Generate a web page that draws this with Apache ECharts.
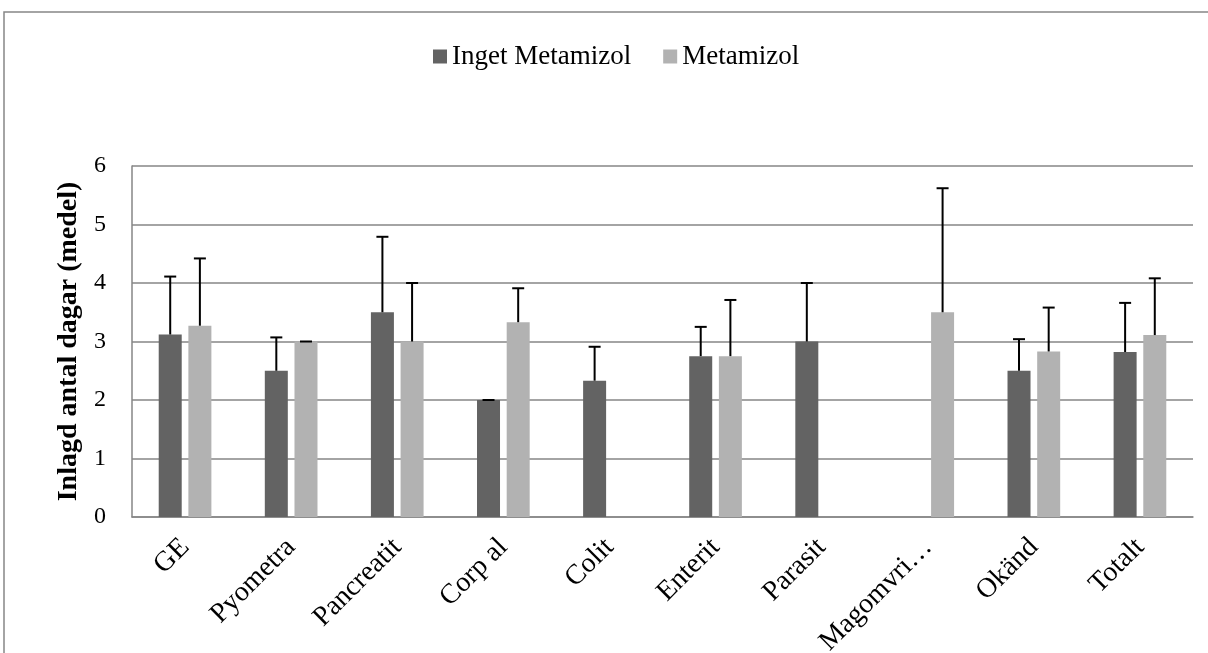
<!DOCTYPE html>
<html>
<head>
<meta charset="utf-8">
<script src="https://cdn.jsdelivr.net/npm/echarts@6/dist/echarts.min.js"></script>
<style>html,body{margin:0;padding:0;background:#fff}#c{width:1208px;height:653px}</style>
</head>
<body>
<div id="c"></div>
<script>
const categories = ['GE','Pyometra','Pancreatit','Corp al','Colit','Enterit','Parasit','Magomvri…','Okänd','Totalt'];
const ingetMean = [3.12, 2.5, 3.5, 2.0, 2.33, 2.75, 3.0, null, 2.5, 2.82];
const ingetSD   = [0.99, 0.57, 1.29, 0.0, 0.58, 0.5, 1.0, null, 0.54, 0.84];
const metaMean  = [3.27, 3.0, 3.0, 3.33, null, 2.75, null, 3.5, 2.83, 3.11];
const metaSD    = [1.15, 0.0, 1.0, 0.58, null, 0.96, null, 2.12, 0.75, 0.97];
const yTicks = [0,1,2,3,4,5,6];

const FONT = 'Liberation Serif';
const BAR_W = 23;
const GAP = 0.29;
const OFF = (BAR_W + BAR_W*GAP)/2;

function errData(mean, sd){
  const out = [];
  mean.forEach((m,i)=>{ if(m!=null && sd[i]!=null) out.push([i, m, m+sd[i]]); });
  return out;
}
function errRender(offset){
  return function(params, api){
    const base = api.coord([api.value(0), api.value(1)]);
    const top = api.coord([api.value(0), api.value(2)]);
    const cx = base[0] + offset;
    return {type:'group', children:[
      {type:'line', shape:{x1:cx,y1:base[1],x2:cx,y2:top[1]}, style:{stroke:'#000',lineWidth:2}},
      {type:'line', shape:{x1:cx-6,y1:top[1],x2:cx+6,y2:top[1]}, style:{stroke:'#000',lineWidth:2}}
    ]};
  };
}

const chart = echarts.init(document.getElementById('c'), null, {renderer:'canvas'});
chart.setOption({
  animation:false,
  backgroundColor:'#fff',
  textStyle:{fontFamily:FONT},
  graphic:[{type:'rect', shape:{x:4,y:12,width:1400,height:900}, style:{fill:'none',stroke:'#868686',lineWidth:1.5}, silent:true}],
  legend:{
    data:['Inget Metamizol','Metamizol'],
    top:38, left:428,
    itemWidth:14, itemHeight:14, itemGap:32,
    icon:'rect',
    textStyle:{fontFamily:FONT,fontSize:27,color:'#000',lineHeight:27}
  },
  grid:{left:132,right:15,top:166,bottom:136,containLabel:false,outerBoundsMode:'none'},
  xAxis:{
    type:'category', data:categories,
    axisLine:{lineStyle:{color:'#868686',width:1.5}},
    axisTick:{show:false},
    axisLabel:{rotate:45, margin:26, interval:0, fontFamily:FONT, fontSize:28, color:'#000'}
  },
  yAxis:{
    type:'value', min:0, max:6, interval:1,
    name:'Inlagd antal dagar (medel)', nameLocation:'middle', nameRotate:90, nameGap:44,
    nameTextStyle:{fontFamily:FONT, fontSize:28, fontWeight:'bold', color:'#000'},
    axisLine:{show:true, lineStyle:{color:'#868686',width:1.5}},
    axisTick:{show:false},
    axisLabel:{margin:26, fontFamily:FONT, fontSize:24, color:'#000', formatter:v=>yTicks.includes(v)?String(v):''},
    splitLine:{lineStyle:{color:'#868686',width:1.5}}
  },
  series:[
    {name:'Inget Metamizol', type:'bar', data:ingetMean, barWidth:BAR_W, barGap:(GAP*100)+'%', itemStyle:{color:'#636363'}},
    {name:'Metamizol', type:'bar', data:metaMean, barWidth:BAR_W, barGap:(GAP*100)+'%', itemStyle:{color:'#b2b2b2'}},
    {type:'custom', renderItem:errRender(-OFF), data:errData(ingetMean, ingetSD), z:5, encode:{x:0,y:[1,2]}},
    {type:'custom', renderItem:errRender(OFF), data:errData(metaMean, metaSD), z:5, encode:{x:0,y:[1,2]}}
  ]
});
</script>
</body>
</html>
